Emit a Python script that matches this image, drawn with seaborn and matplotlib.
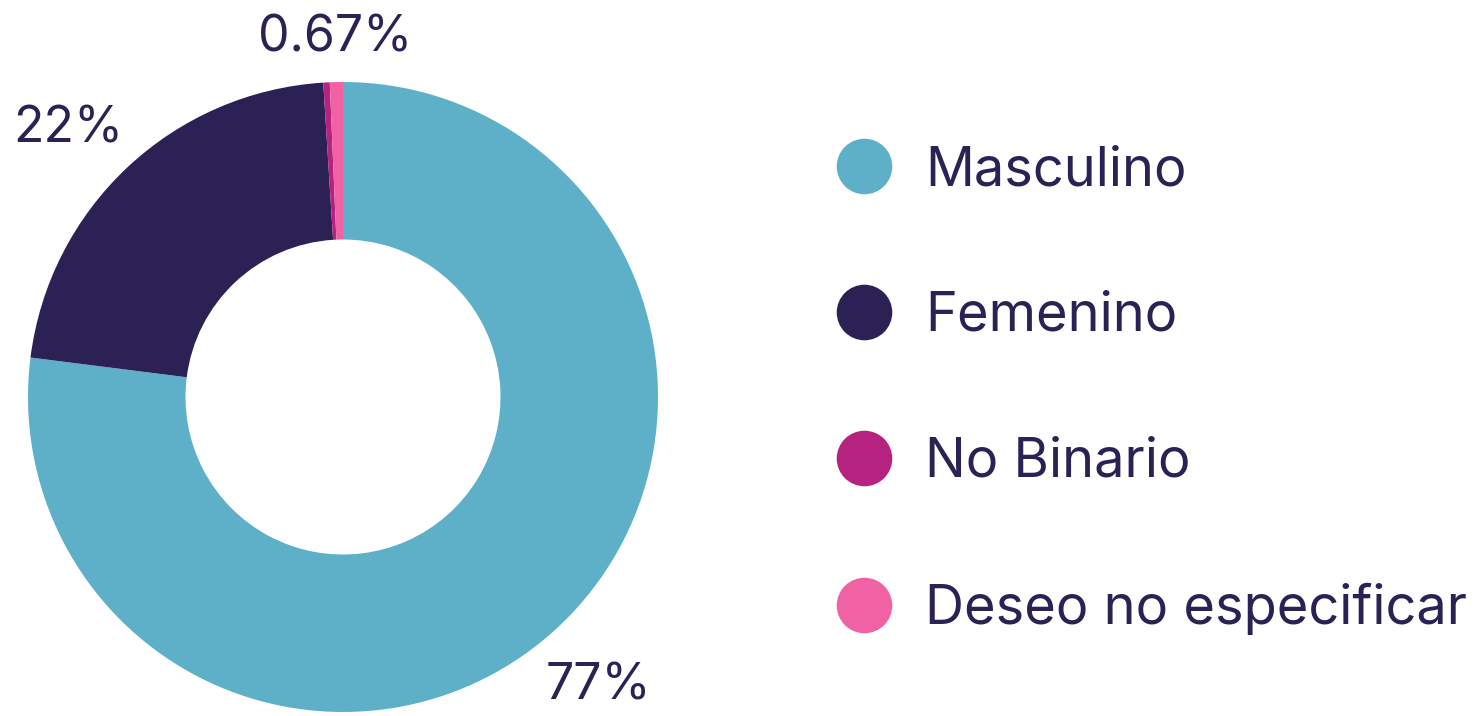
import numpy as np
import matplotlib
matplotlib.use('Agg')
import matplotlib.pyplot as plt
from matplotlib.lines import Line2D
import seaborn as sns

# data
categories = ['Masculino', 'Femenino', 'No Binario', 'Deseo no especificar']
values = [77.0, 22.0, 0.33, 0.67]
pctLabels = ['77%', '22%', '', '0.67%']
colors = ['#5EB0C8', '#2C2155', '#B5227F', '#F062A3']

textColor = '#2C2155'

sns.set_theme(style='white')
plt.rcParams['font.family'] = ['Inter', 'DejaVu Sans']

W, H = 1476, 716
fig = plt.figure(figsize=(W/100, H/100), dpi=100)

# donut: center (343, 397), outer radius 315 px
cx, cy, r = 343, 397, 315
ax = fig.add_axes([(cx-r)/W, (H-cy-r)/H, 2*r/W, 2*r/H])
ax.pie(values, colors=colors, startangle=90, counterclock=False,
	wedgeprops=dict(width=0.5, edgecolor='none'), radius=1.0)
ax.set_xlim(-1, 1)
ax.set_ylim(-1, 1)
ax.set_aspect('equal')
ax.axis('off')

# percentage labels near wedge mid angles (small angle nudge for readability)
total = sum(values)
cum = 0
labelDist = [1.225, 1.22, 1.14, 1.14]
angleNudge = [0, -2.5, 0, 0]  # degrees
for i, v in enumerate(values):
	mid = (cum + v/2) / total * 2*np.pi + np.deg2rad(angleNudge[i])  # clockwise from top
	cum += v
	if not pctLabels[i]:
		continue
	d = labelDist[i]
	x = d*np.sin(mid)
	y = d*np.cos(mid)
	ax.text(x, y, pctLabels[i], ha='center', va='center', fontsize=36,
		color=textColor, clip_on=False)

# legend
handles = [Line2D([], [], marker='o', linestyle='none', markersize=40,
	markerfacecolor=c, markeredgecolor='none') for c in colors]
leg = fig.legend(handles, categories, loc='center left',
	bbox_to_anchor=(810/W, 1 - 390/H), frameon=False, fontsize=39,
	labelspacing=1.75, handletextpad=0.62, handlelength=1.0, borderpad=0)
for t in leg.get_texts():
	t.set_color(textColor)

fig.savefig('out.png', dpi=100)
